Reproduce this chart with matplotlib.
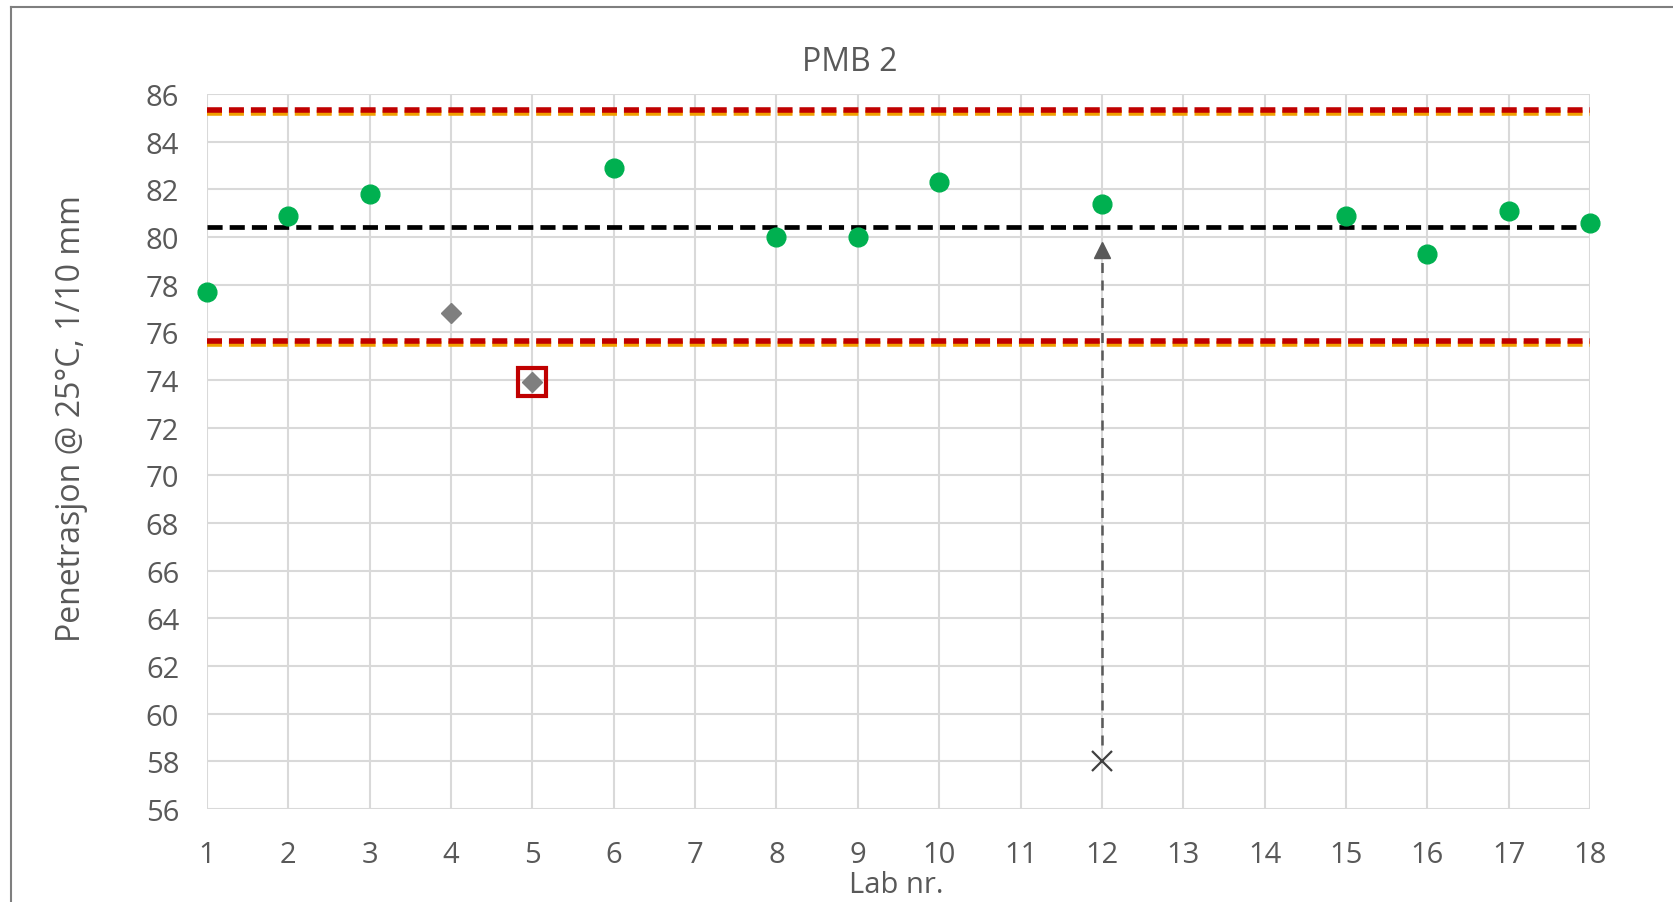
import numpy as np
import matplotlib.pyplot as plt
from matplotlib.lines import Line2D

# Lab numbers and measured penetration values
labs = [str(i) for i in range(1, 19)]
ok_labs = [1, 2, 3, 6, 8, 9, 10, 12, 15, 16, 17, 18]
ok_vals = [77.7, 80.9, 81.8, 82.9, 80.0, 80.0, 82.3, 81.4, 80.9, 79.3, 81.1, 80.6]
gray_labs = [4, 5]
gray_vals = [76.8, 73.9]
flag_lab = [5]
flag_val = [73.9]
old_lab = [12]
old_val = [58.0]
arrow_top = 79.8

mean_val = 80.4
upper_lim = 85.3
lower_lim = 75.6

plt.rcParams['font.family'] = ['Open Sans', 'DejaVu Sans']
txt = '#595959'

fig = plt.figure(figsize=(16.73, 9.03), dpi=100)
ax = fig.add_axes([0.1237, 0.103, 0.8267, 0.7918])

x0, x1 = 1, len(labs)
ax.set_xlim(x0, x1)
ax.set_ylim(56, 86)
ax.set_xticks(range(1, len(labs) + 1))
ax.set_xticklabels(labs)
ax.set_yticks(np.arange(56, 87, 2))
ax.grid(True, color='#D9D9D9', linewidth=1.5)
ax.set_axisbelow(True)
for s in ax.spines.values():
    s.set_visible(False)
ax.tick_params(length=0, labelsize=21, colors=txt)
ax.tick_params(axis='x', pad=22)
ax.tick_params(axis='y', pad=20)

dash = (0, (3.2, 1.5))
lw = 3.4
rlw = 4.0
rdash = (0, (2.7, 1.25))
for yv in (upper_lim, lower_lim):
    ax.plot([x0, x1], [yv - 0.09, yv - 0.09], color='#F0A000', lw=rlw, linestyle=rdash, zorder=3)
    ax.plot([x0, x1], [yv + 0.02, yv + 0.02], color='#C00000', lw=rlw, linestyle=rdash, zorder=3)
ax.plot([x0, x1], [mean_val, mean_val], color='black', lw=lw, linestyle=dash, zorder=3)

# shift of lab 12 from its first result to the corrected one
ax.plot([old_lab[0], old_lab[0]], [old_val[0] + 0.7, arrow_top - 0.5], color='#595959',
        lw=1.8, linestyle=(0, (4, 3)), zorder=4)
ax.plot(old_lab, [arrow_top - 0.35], linestyle='none', marker='^', markersize=12,
        color='#595959', zorder=4)
ax.plot(old_lab, old_val, linestyle='none', marker='x', markersize=14,
        markeredgewidth=1.6, color='#404040', zorder=5, clip_on=False)

ax.plot(ok_labs, ok_vals, linestyle='none', marker='o', markersize=13.5,
        color='#00B050', zorder=5, clip_on=False)
ax.plot(gray_labs, gray_vals, linestyle='none', marker='D', markersize=10,
        color='#7F7F7F', zorder=5)
ax.plot(flag_lab, flag_val, linestyle='none', marker='s', markersize=20,
        markerfacecolor='none', markeredgecolor='#C00000', markeredgewidth=3, zorder=6)

fig.text(0.508, 0.931, 'PMB 2', fontsize=23, color=txt, ha='center', va='center')
fig.text(0.536, 0.019, 'Lab nr.', fontsize=21, color=txt, ha='center', va='center')
fig.text(0.0427, 0.5366, 'Penetrasjon @ 25°C, 1/10 mm', fontsize=23, color=txt,
         rotation=90, ha='center', va='center')

# outer chart frame (top and left visible)
fig.add_artist(Line2D([0.0066, 1.0], [0.9906, 0.9906], color='#7F7F7F', lw=1.5))
fig.add_artist(Line2D([0.0066, 0.0066], [0.0, 0.9906], color='#7F7F7F', lw=1.5))

fig.savefig('out.png', dpi=100)
